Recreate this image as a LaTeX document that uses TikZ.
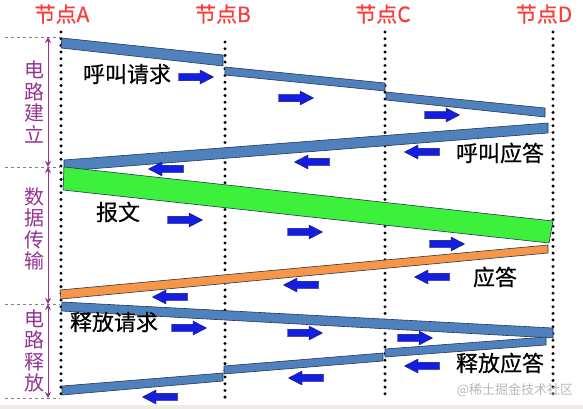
\documentclass[tikz,border=0pt]{standalone}
\usepackage{fontspec}
\setmainfont{Noto Sans CJK SC}
\newfontfamily\cjkbold[FakeBold=0.5]{Noto Sans CJK SC}
\usetikzlibrary{arrows.meta}
\definecolor{barblue}{RGB}{79,129,189}
\definecolor{baredge}{RGB}{35,55,85}
\definecolor{bargreen}{RGB}{60,240,60}
\definecolor{barorange}{RGB}{247,150,70}
\definecolor{arrblue}{RGB}{20,30,225}
\definecolor{arredge}{RGB}{20,20,110}
\definecolor{labred}{RGB}{250,60,60}
\definecolor{labpurple}{RGB}{150,50,150}
\definecolor{stripgrey}{RGB}{238,235,228}
\tikzset{
  bar/.style={draw=baredge, line width=0.6pt, line join=round},
  dotline/.style={line width=3.3pt, dash pattern=on 0pt off 6.7pt, line cap=round, black},
  levelline/.style={gray, dashed, line width=0.6pt},
  phasearrow/.style={labpurple, line width=0.7pt, {Stealth[length=6pt,width=6pt]}-{Stealth[length=6pt,width=6pt]}},
  blockarrow/.style={fill=arrblue, draw=arredge, line width=0.4pt},
  rar/.pic={\path[blockarrow] (-17.5,-3.7) -- (4,-3.7) -- (4,-7) -- (17.5,0) -- (4,7) -- (4,3.7) -- (-17.5,3.7) -- cycle;},
  lar/.pic={\path[blockarrow] (17.5,-3.7) -- (-4,-3.7) -- (-4,-7) -- (-17.5,0) -- (-4,7) -- (-4,3.7) -- (17.5,3.7) -- cycle;},
  nodelab/.style={text=labred, font=\cjkbold\fontsize{21}{21}\selectfont, inner sep=0pt},
  phaselab/.style={text=labpurple, font=\fontsize{20}{21.5}\selectfont, align=center, inner sep=0pt},
  msglab/.style={text=black, font=\cjkbold\fontsize{22}{22}\selectfont, inner sep=0pt},
}
\begin{document}
\begin{tikzpicture}[x=1pt,y=-1pt]
\useasboundingbox (0,0) rectangle (583,409);
\fill[white] (0,0) rectangle (583,409);
\fill[stripgrey] (0,405) rectangle (583,409);

% node labels
\node[nodelab] (labA) at (62,14) {节点A};
\node[nodelab] (labB) at (223,14) {节点B};
\node[nodelab] (labC) at (383,14) {节点C};
\node[nodelab] (labD) at (544,14) {节点D};

% vertical dotted lines
\coordinate (At) at (61,32); \coordinate (Ab) at (61,400);
\coordinate (Bt) at (225,42); \coordinate (Bb) at (225,403);
\coordinate (Ct) at (385,32); \coordinate (Cb) at (385,394);
\coordinate (Dt) at (553,32); \coordinate (Db) at (553,394);
\draw[dotline] (At) -- (Ab);
\draw[dotline] (Bt) -- (Bb);
\draw[dotline] (Ct) -- (Cb);
\draw[dotline] (Dt) -- (Db);

% phase levels
\coordinate (h1) at (5,37);  \coordinate (h1e) at (60,37);
\coordinate (h2) at (5,167); \coordinate (h2e) at (60,167);
\coordinate (h3) at (5,304); \coordinate (h3e) at (60,304);
\coordinate (h4) at (5,398); \coordinate (h4e) at (60,398);
\draw[levelline] (h1) -- (h1e);
\draw[levelline] (h2) -- (h2e);
\draw[levelline] (h3) -- (h3e);
\draw[levelline] (h4) -- (h4e);
\coordinate (p1) at (48,37); \coordinate (p2) at (48,167);
\coordinate (p3) at (48,304); \coordinate (p4) at (48,398);
\draw[phasearrow] (p1) -- (p2);
\draw[phasearrow] (p2) -- (p3);
\draw[phasearrow] (p3) -- (p4);
\node[phaselab] (ph1) at (34,102) {电\\路\\建\\立};
\node[phaselab] (ph2) at (34,229) {数\\据\\传\\输};
\node[phaselab] (ph3) at (34,351) {电\\路\\释\\放};

% call request (3 hops)
\draw[bar, fill=barblue] (62,38) -- (223,55) -- (223,66) -- (61,48) -- cycle;
\draw[bar, fill=barblue] (225,67) -- (385,83) -- (385,91) -- (225,75) -- cycle;
\draw[bar, fill=barblue] (386,92) -- (545,108) -- (545,117) -- (386,100) -- cycle;
% call answer
\draw[bar, fill=barblue] (548,123) -- (548,133) -- (64,171) -- (64,160) -- cycle;
% data
\draw[bar, fill=bargreen] (64,167) -- (553,221) -- (549,243) -- (63,190) -- cycle;
% answer
\draw[bar, fill=barorange] (548,245) -- (548,253) -- (61,299) -- (60,290) -- cycle;
% release request
\draw[bar, fill=barblue] (62,302) -- (553,328) -- (553,338) -- (61,311) -- cycle;
% release answer (3 hops)
\draw[bar, fill=barblue] (546,337) -- (546,345) -- (385,357) -- (385,349) -- cycle;
\draw[bar, fill=barblue] (383,353) -- (383,361) -- (224,374) -- (224,366) -- cycle;
\draw[bar, fill=barblue] (223,373) -- (223,381) -- (62,395) -- (62,386) -- cycle;

% direction arrows
\pic at (196,77) {rar}; \pic at (296,98) {rar}; \pic at (442,115) {rar};
\pic at (422,152) {lar}; \pic at (312,162) {lar}; \pic at (166,169) {lar};
\pic at (185,220) {rar}; \pic at (305,232) {rar}; \pic at (447,244) {rar};
\pic at (432,277) {lar}; \pic at (301,285) {lar}; \pic at (170,297) {lar};
\pic at (189,328) {rar}; \pic at (305,333) {rar}; \pic at (415,338) {rar};
\pic at (422,366) {lar}; \pic at (306,378) {lar}; \pic at (160,397) {lar};

% message labels
\node[msglab] (m1) at (127,74) {呼叫请求};
\node[msglab] (m2) at (500,153) {呼叫应答};
\node[msglab] (m3) at (118,212) {报文};
\node[msglab] (m4) at (495,277) {应答};
\node[msglab] (m5) at (114,322) {释放请求};
\node[msglab] (m6) at (500,363) {释放应答};

% watermark
\node[text=gray!55, font=\fontsize{13}{13}\selectfont, inner sep=0pt] (wm) at (515,390) {@稀土掘金技术社区};
\end{tikzpicture}
\end{document}
